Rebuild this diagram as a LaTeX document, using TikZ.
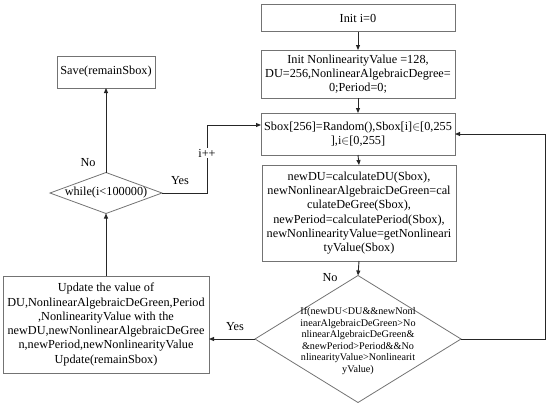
\documentclass[tikz,border=0pt]{standalone}
\usepackage{fontspec}
\setmainfont{Liberation Serif}
\usetikzlibrary{arrows.meta,shapes.geometric}
\newcommand{\elm}{\ensuremath{\in}}
\begin{document}
\begin{tikzpicture}[x=1bp,y=-1bp,
  font=\fontsize{12.3}{14.3}\selectfont,
  box/.style={draw=black!55, line width=0.8bp, align=center, inner sep=0pt, outer sep=0pt},
  dia/.style={draw=black!55, line width=0.8bp, diamond, inner sep=0pt, outer sep=0pt, aspect=1},
  conn/.style={draw=black!85, line width=0.9bp},
  arr/.style={conn, -{Triangle[length=5bp,width=4bp]}},
  lbl/.style={inner sep=1pt}]
\useasboundingbox (0,0) rectangle (550,407);

\node[box, minimum width=194bp, minimum height=27bp] (b1) at (358,18) {Init i=0};
\node[box, minimum width=194bp, minimum height=48bp] (b2) at (358,74)
  {Init NonlinearityValue =128,\\DU=256,NonlinearAlgebraicDegree=\\0;Period=0;};
\node[box, minimum width=194bp, minimum height=42bp] (b3) at (358,134)
  {Sbox[256]=Random(),Sbox[i]\elm[0,255\\],i\elm[0,255]};
\node[box, minimum width=194bp, minimum height=96bp] (b4) at (359,213)
  {newDU=calculateDU(Sbox),\\newNonlinearAlgebraicDeGreen=cal\\culateDeGree(Sbox),\\newPeriod=calculatePeriod(Sbox),\\newNonlinearityValue=getNonlineari\\tyValue(Sbox)};
\node[dia, minimum width=206bp, minimum height=127bp] (d1) at (358,339) {};
\node[align=center, inner sep=0pt, font=\fontsize{10.2}{11.5}\selectfont] (d1t) at (358,341)
  {If(newDU<DU\&\&newNonl\\inearAlgebraicDeGreen>No\\nlinearAlgebraicDeGreen\&\\\&newPeriod>Period\&\&No\\nlinearityValue>Nonlinearit\\yValue)};
\node[box, minimum width=206bp, minimum height=97bp] (upd) at (106,324.5)
  {Update the value of\\DU,NonlinearAlgebraicDeGreen,Period\\,NonlinearityValue with the\\newDU,newNonlinearAlgebraicDeGree\\n,newPeriod,newNonlinearityValue\\Update(remainSbox)};
\node[dia, minimum width=112bp, minimum height=41bp] (wh) at (106,193) {};
\node[inner sep=0pt] (wht) at (106,193) {while(i<100000)};
\node[box, minimum width=98bp, minimum height=32bp] (save) at (106,72) {Save(remainSbox)};

\coordinate (in3) at ([yshift=9bp]b3.west);
\coordinate (rt) at (545,339);
\coordinate (lt) at (207,193);

\draw[arr] (b1.south) -- (b2.north);
\draw[arr] (b2.south) -- (b3.north);
\draw[arr] (b3.south) -- (b4.south |- b4.north);
\draw[arr] (b4.south) -- (d1.north);
\node[lbl] at (330,278) {No};
\draw[arr] (d1.east) -- (rt) |- (b3.east);
\draw[arr] (d1.west) -- (d1.west -| upd.east);
\node[lbl] at (235,327) {Yes};
\draw[arr] (upd.north) -- (wh.south);
\draw[arr] (wh.north) -- (save.south);
\node[lbl] at (88,163) {No};
\draw[arr] (wh.east) -- (lt) |- (in3);
\node[lbl] at (180,181) {Yes};
\node[lbl, fill=white] at (207,153) {i++};
\end{tikzpicture}
\end{document}
